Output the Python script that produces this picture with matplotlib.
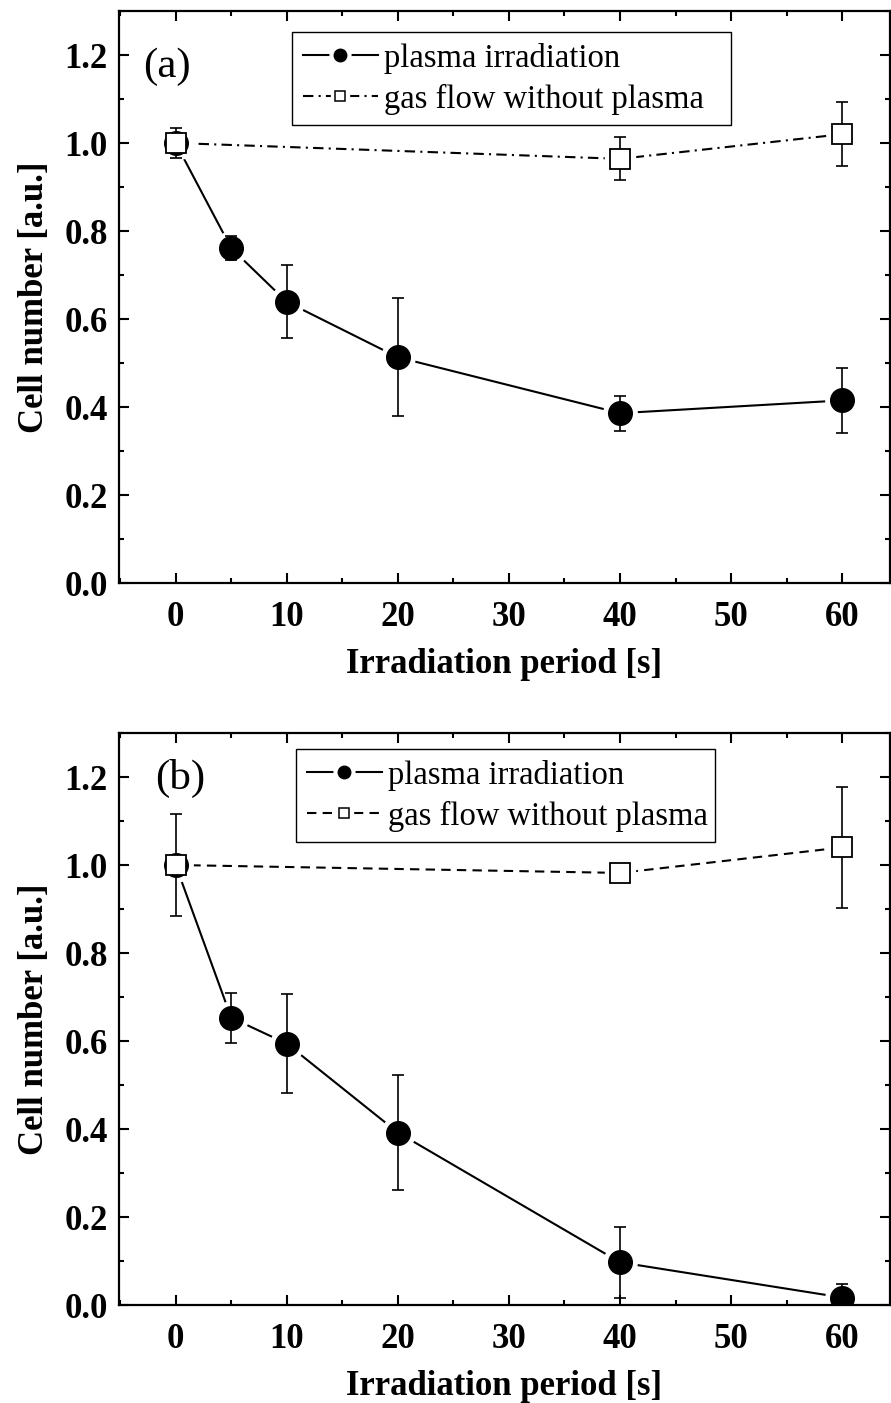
import matplotlib
matplotlib.use('Agg')
import matplotlib.pyplot as plt
from matplotlib.lines import Line2D
from matplotlib.legend_handler import HandlerTuple
from matplotlib.ticker import MultipleLocator

plt.rcParams['font.family'] = 'Liberation Serif'

# Irradiation periods [s]
t_plasma = [0, 5, 10, 20, 40, 60]
t_gas = [0, 40, 60]

# (a) cell number, normalised
a_plasma = [1.0, 0.761, 0.639, 0.513, 0.386, 0.415]
a_plasma_err = [0.0, 0.028, 0.083, 0.134, 0.040, 0.074]
a_gas = [1.0, 0.964, 1.020]
a_gas_err = [0.033, 0.049, 0.073]

# (b) cell number, normalised
b_plasma = [1.0, 0.653, 0.594, 0.392, 0.097, 0.017]
b_plasma_err = [0.0, 0.057, 0.113, 0.131, 0.080, 0.030]
b_gas = [1.0, 0.982, 1.040]
b_gas_err = [0.115, 0.012, 0.137]

panel_names = ['(a)', '(b)']
label_plasma = 'plasma irradiation'
label_gas = 'gas flow without plasma'

W, H = 891, 1403
fig = plt.figure(figsize=(W / 100, H / 100), dpi=100)

# axes boxes in pixels: left, top, right, bottom
boxes = [(119, 11, 890, 583), (119, 733, 890, 1305)]
gas_styles = [(0, (5, 2.5, 1, 2.5)), (0, (4.5, 3))]
# legend frame in pixels: left, top, right, bottom
legend_boxes = [(292, 32, 731, 126), (296, 749, 715, 843)]
panel_pos = [(143, 67), (155, 778)]

CIRCLE = 17
SQUARE = 14


def make_axes(box):
    l, t, r, b = box
    return fig.add_axes([l / W, 1 - b / H, (r - l) / W, (b - t) / H])


def draw_panel(ax, plasma, plasma_err, gas, gas_err, gas_ls):
    # connecting lines
    ax.plot(t_plasma, plasma, color='k', lw=1.5, zorder=1)
    ax.plot(t_gas, gas, color='k', lw=1.5, ls=gas_ls, zorder=1)
    # white halos so the lines stop short of the symbols
    ax.plot(t_plasma, plasma, ls='none', marker='o', ms=CIRCLE + 7,
            mfc='white', mec='white', zorder=2)
    ax.plot(t_gas, gas, ls='none', marker='s', ms=SQUARE + 7,
            mfc='white', mec='white', zorder=2)
    # error bars
    ax.errorbar(t_plasma[1:], plasma[1:], yerr=plasma_err[1:], fmt='none',
                ecolor='k', elinewidth=1.2, capsize=4, capthick=1.2, zorder=3)
    ax.errorbar(t_gas, gas, yerr=gas_err, fmt='none',
                ecolor='k', elinewidth=1.2, capsize=4, capthick=1.2, zorder=3)
    # symbols
    ax.plot(t_plasma, plasma, ls='none', marker='o', ms=CIRCLE,
            mfc='k', mec='k', zorder=4)
    ax.plot(t_gas, gas, ls='none', marker='s', ms=SQUARE,
            mfc='white', mec='k', mew=1.3, zorder=5)


def style_axes(ax):
    ax.set_xlim(-5.1, 64.3)
    ax.set_ylim(0, 1.3)
    ax.set_xticks([0, 10, 20, 30, 40, 50, 60])
    ax.set_yticks([0.0, 0.2, 0.4, 0.6, 0.8, 1.0, 1.2])
    ax.xaxis.set_minor_locator(MultipleLocator(5))
    ax.yaxis.set_minor_locator(MultipleLocator(0.1))
    ax.tick_params(which='both', direction='in', top=True, right=True, width=1.5)
    ax.tick_params(which='major', length=7, labelsize=25)
    ax.tick_params(which='minor', length=3.5)
    ax.tick_params(axis='x', pad=13)
    ax.tick_params(axis='y', pad=8)
    for lab in ax.get_xticklabels() + ax.get_yticklabels():
        lab.set_fontweight('bold')
    ax.yaxis.set_major_formatter(plt.FuncFormatter(lambda v, p: '%.1f' % v))
    for sp in ax.spines.values():
        sp.set_linewidth(1.6)
    ax.set_xlabel('Irradiation period [s]', fontsize=25, fontweight='bold', labelpad=10)
    ax.set_ylabel('Cell number [a.u.]', fontsize=25, fontweight='bold', labelpad=10)


data = [(a_plasma, a_plasma_err, a_gas, a_gas_err),
        (b_plasma, b_plasma_err, b_gas, b_gas_err)]

for i in range(2):
    ax = make_axes(boxes[i])
    plasma, plasma_err, gas, gas_err = data[i]
    draw_panel(ax, plasma, plasma_err, gas, gas_err, gas_styles[i])
    style_axes(ax)

    # legend entries built as line + halo + symbol
    h_plasma = (Line2D([], [], color='k', lw=1.5),
                Line2D([], [], ls='none', marker='o', ms=15, mfc='white', mec='white'),
                Line2D([], [], ls='none', marker='o', ms=9, mfc='k', mec='k'))
    h_gas = (Line2D([], [], color='k', lw=1.5, ls=gas_styles[i]),
             Line2D([], [], ls='none', marker='s', ms=13, mfc='white', mec='white'),
             Line2D([], [], ls='none', marker='s', ms=7, mfc='white', mec='k', mew=1.1))

    # legend frame placed in axes fraction, expanded to the measured width
    l, t, r, b = boxes[i]
    ll, lt, lr, lb = legend_boxes[i]
    x0 = (ll - l) / (r - l)
    y1 = (b - lt) / (b - t)
    w = (lr - ll) / (r - l)
    leg = ax.legend([h_plasma, h_gas], [label_plasma, label_gas],
                    handler_map={tuple: HandlerTuple(ndivide=1)},
                    loc='upper left', bbox_to_anchor=(x0, y1 - 0.2, w, 0.2),
                    mode='expand', borderaxespad=0, fontsize=23.5,
                    frameon=True, fancybox=False, edgecolor='k', framealpha=1,
                    handlelength=2.3, handletextpad=0.2, labelspacing=0.3,
                    borderpad=0.33)
    leg.get_frame().set_linewidth(1.0)

    px, py = panel_pos[i]
    fig.text(px / W, 1 - py / H, panel_names[i], fontsize=31,
             ha='left', va='center')

fig.savefig('out.png', dpi=100)
